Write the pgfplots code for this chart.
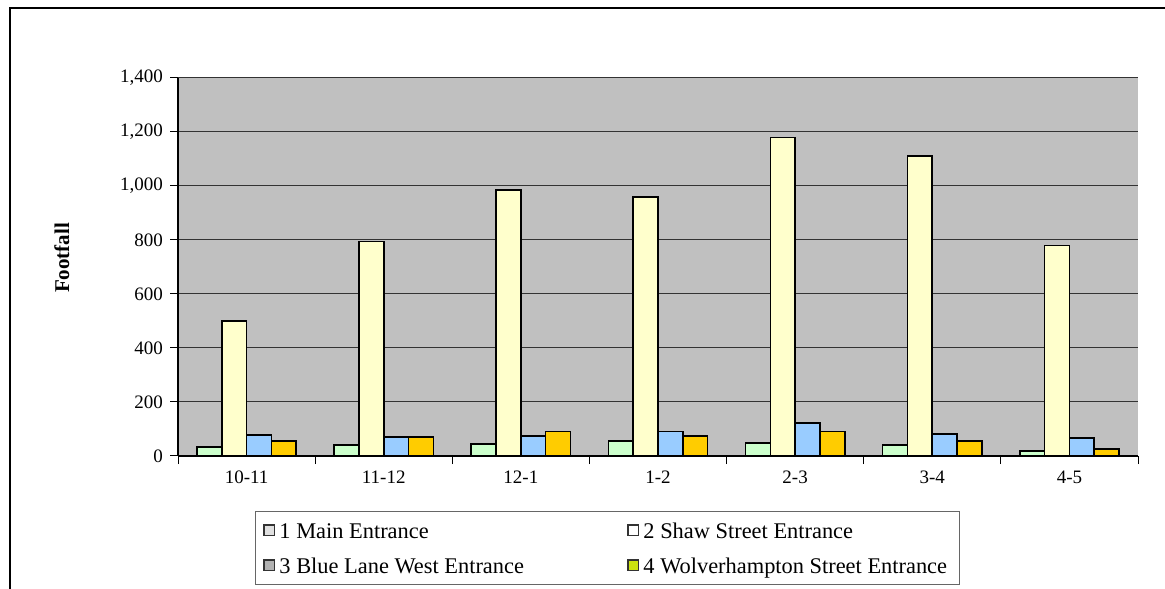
\documentclass[border=0pt]{standalone}
\usepackage{fontspec}
\setmainfont{Liberation Serif}
\usepackage{pgfplots}
\pgfplotsset{compat=1.18}
\definecolor{cMain}{HTML}{CCFFCC}
\definecolor{cShaw}{HTML}{FFFFCC}
\definecolor{cBlue}{HTML}{99CCFF}
\definecolor{cWolv}{HTML}{FFCC00}
\definecolor{plotbg}{HTML}{C0C0C0}
\begin{document}
\begin{tikzpicture}
\useasboundingbox (0,0) rectangle (582.5pt,294pt);
\clip (0,0) rectangle (582.5pt,294pt);
\fill[white] (0,0) rectangle (582.5pt,294pt);
\draw[line width=1.2pt] (5pt,-20pt) rectangle (620pt,290pt);
\begin{axis}[
  at={(89pt,66pt)}, anchor=south west,
  width=480pt, height=189pt, scale only axis,
  ybar=0pt, bar width=12.4pt,
  ymin=0, ymax=1400,
  xmin=-0.5, xmax=6.5,
  xtick={0,...,6},
  xticklabels={10-11,11-12,12-1,1-2,2-3,3-4,4-5},
  major x tick style={draw=none},
  minor xtick={-0.5,0.5,...,6.5},
  minor tick length=4pt,
  ytick={0,200,...,1400},
  tick align=outside,
  major tick length=4pt,
  tick style={black, line width=0.5pt},
  ymajorgrids, grid style={black!80, line width=0.5pt},
  axis background/.style={fill=plotbg},
  axis x line*=bottom, axis y line*=left,
  axis line style={black, line width=0.8pt, -},
  /pgf/number format/assume math mode=true,
  /pgf/number format/1000 sep={,},
  scaled y ticks=false,
  tick label style={font=\fontsize{9.5}{11}\selectfont},
  ylabel={\textbf{Footfall}},
  ylabel style={font=\fontsize{10.5}{12}\selectfont, at={(axis description cs:-0.121,0.524)}, anchor=center},
  legend columns=2,
  legend cell align=left,
  legend style={at={(axis description cs:0.0802,-0.341)}, anchor=south west,
    draw=black!60, line width=0.5pt, font=\fontsize{11.2}{12}\selectfont,
    inner xsep=4pt, inner ysep=2.5pt, row sep=3.5pt,
    nodes={text height=9pt, text depth=1pt},
    /tikz/every even column/.style={column sep=0pt}},
  legend image code/.code={\draw[#1, line width=0.8pt] (0pt,-2.6pt) rectangle (5.2pt,2.6pt);},
]
\addplot[fill=cMain, draw=black, line width=0.8pt, forget plot, bar shift=-18.6pt] coordinates {(0,33) (1,40) (2,45) (3,55) (4,48) (5,40) (6,18)};
\addplot[fill=cShaw, draw=black, line width=0.8pt, forget plot, bar shift=-6.2pt] coordinates {(0,500) (1,795) (2,985) (3,960) (4,1180) (5,1110) (6,780)};
\addplot[fill=cBlue, draw=black, line width=0.8pt, forget plot, bar shift=6.2pt] coordinates {(0,78) (1,70) (2,75) (3,90) (4,122) (5,81) (6,66)};
\addplot[fill=cWolv, draw=black, line width=0.8pt, forget plot, bar shift=18.6pt] coordinates {(0,56) (1,70) (2,90) (3,75) (4,90) (5,56) (6,25)};
\addlegendimage{fill=black!12, draw=black!80}
\addlegendentry{\makebox[172pt][l]{1 Main Entrance}}
\addlegendimage{fill=white, draw=black!80}
\addlegendentry{2 Shaw Street Entrance}
\addlegendimage{fill=black!30, draw=black!80}
\addlegendentry{\makebox[172pt][l]{3 Blue Lane West Entrance}}
\addlegendimage{fill=yellow!80!green, draw=black!80}
\addlegendentry{4 Wolverhampton Street Entrance}
\end{axis}
\end{tikzpicture}
\end{document}
